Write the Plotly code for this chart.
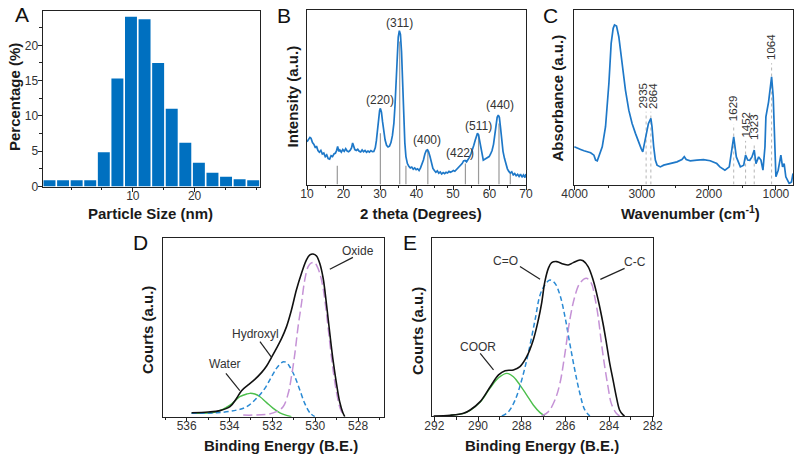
import plotly.graph_objects as go

# ---------------- Panel A: particle size histogram ----------------
size_centers = [-3.5, -1.3, 0.9, 3.1, 5.3, 7.5, 9.7, 11.9, 14.1, 16.3, 18.5, 20.7, 22.9, 25.1, 27.3, 29.5]
size_percent = [0.9, 0.9, 0.9, 0.9, 4.86, 15.3, 24.05, 23.7, 17.5, 11.0, 6.2, 3.35, 1.93, 1.37, 1.04, 0.9]

# ---------------- Panel B: XRD ----------------
xrd_2theta = [10.0, 10.4, 10.8, 11.1, 11.5, 11.9, 12.3, 12.6, 13.0, 13.4, 13.8, 14.2, 14.6, 15.0, 15.4, 15.8,
              16.2, 16.6, 17.0, 17.4, 17.8, 18.1, 18.4, 18.7, 19.0, 19.4, 19.8, 20.2, 20.6, 21.0, 21.4, 21.8,
              22.2, 22.5, 22.8, 23.1, 23.5, 23.9, 24.3, 24.7, 25.1, 25.5, 25.9, 26.3, 26.7, 27.1, 27.5, 27.9,
              28.3, 28.7, 29.0, 29.3, 29.6, 29.9, 30.1, 30.4, 30.7, 31.0, 31.4, 31.8, 32.2, 32.6, 33.0, 33.4,
              33.8, 34.1, 34.4, 34.7, 35.0, 35.3, 35.6, 35.9, 36.2, 36.5, 36.8, 37.1, 37.5, 37.9, 38.3, 38.7,
              39.1, 39.5, 39.9, 40.3, 40.7, 41.1, 41.5, 41.9, 42.3, 42.7, 43.0, 43.3, 43.7, 44.1, 44.5, 44.9,
              45.3, 45.7, 46.1, 46.5, 46.9, 47.3, 47.7, 48.1, 48.5, 48.9, 49.3, 49.7, 50.1, 50.5, 50.9, 51.3,
              51.7, 52.1, 52.5, 52.9, 53.3, 53.7, 54.1, 54.5, 54.9, 55.3, 55.7, 56.1, 56.4, 56.7, 57.0, 57.3,
              57.6, 57.9, 58.3, 58.7, 59.1, 59.5, 59.9, 60.3, 60.7, 61.1, 61.5, 61.8, 62.1, 62.4, 62.7, 63.0,
              63.3, 63.7, 64.1, 64.5, 64.9, 65.3, 65.7, 66.1, 66.5, 66.9, 67.3, 67.7, 68.1, 68.5, 68.9, 69.3,
              69.7, 70.0]
xrd_intensity = [24.5, 25.8, 27.0, 26.5, 24.0, 23.0, 21.0, 22.0, 19.5, 18.5, 19.5, 17.5, 18.0, 16.0, 17.0, 14.8,
                 14.5, 16.5, 16.0, 17.5, 18.0, 19.5, 21.8, 19.0, 19.8, 18.5, 20.0, 19.0, 20.5, 19.2, 18.8, 19.5,
                 21.0, 23.8, 21.5, 20.0, 19.5, 20.2, 19.0, 18.6, 19.8, 18.8, 19.5, 18.5, 19.2, 18.6, 19.4, 18.8,
                 18.9, 21.0, 25.0, 31.0, 38.5, 42.5, 43.6, 41.5, 36.0, 30.5, 25.5, 22.5, 21.5, 22.0, 24.0, 28.0,
                 35.0, 45.0, 60.0, 75.0, 84.5, 88.1, 86.0, 76.0, 58.0, 38.0, 24.0, 16.0, 12.0, 10.5, 9.5, 10.0,
                 8.8, 9.5, 8.5, 9.0, 8.0, 9.5, 11.5, 14.0, 17.5, 19.5, 19.8, 18.8, 16.0, 12.0, 9.2, 8.0,
                 7.0, 7.8, 6.5, 7.2, 6.0, 6.8, 6.2, 7.0, 6.6, 7.5, 7.0, 7.4, 8.0, 7.6, 8.5, 9.0,
                 10.2, 10.8, 12.0, 13.5, 13.8, 13.0, 14.0, 15.5, 17.5, 19.5, 22.5, 25.5, 28.0, 29.3, 28.5, 25.0,
                 20.5, 16.5, 14.0, 14.5, 15.0, 15.5, 16.0, 17.5, 19.5, 23.0, 29.0, 34.5, 38.5, 39.8, 38.5, 33.0,
                 25.5, 19.0, 15.0, 11.5, 9.0, 7.5, 6.5, 7.2, 5.5, 6.3, 5.0, 5.8, 4.6, 5.9, 4.2, 5.5,
                 4.0, 6.0]
ref_2theta = [18.3, 30.1, 35.4, 37.1, 43.1, 53.4, 57.0, 62.6, 65.7]
ref_height = [10.7, 29.3, 82.0, 10.7, 20.0, 12.0, 29.0, 35.0, 6.3]
hkl_labels = ["(220)", "(311)", "(400)", "(422)", "(511)", "(440)"]
hkl_x = [29.9, 35.4, 43.0, 51.9, 56.9, 62.8]
hkl_y = [48.4, 92.4, 25.4, 17.8, 33.8, 45.5]

# ---------------- Panel C: FTIR ----------------
ir_wavenumber = [4005, 3960, 3911, 3861, 3812, 3762, 3713, 3688, 3663, 3639, 3589, 3540, 3490, 3456, 3426, 3406,
                 3376, 3342, 3292, 3243, 3193, 3144, 3094, 3045, 3010, 2985, 2960, 2935, 2900, 2864, 2847, 2822,
                 2797, 2772, 2723, 2673, 2574, 2475, 2401, 2366, 2337, 2277, 2178, 2079, 1980, 1881, 1835, 1760,
                 1695, 1660, 1629, 1590, 1530, 1480, 1452, 1420, 1390, 1357, 1323, 1297, 1257, 1223, 1193, 1163,
                 1149, 1109, 1064, 1040, 1025, 1000, 966, 926, 901, 877, 852, 802, 767, 745]
ir_absorbance = [21.6, 20.7, 20.1, 19.3, 18.7, 18.2, 16.8, 14.0, 13.6, 15.9, 21.6, 33.1, 57.9, 80.9, 89.5, 91.4,
                 90.8, 84.7, 67.5, 54.1, 42.6, 35.0, 29.3, 23.5, 20.7, 18.7, 23.5, 30.2, 35.0, 37.9, 33.1, 21.6,
                 14.0, 11.1, 10.1, 11.1, 12.0, 13.0, 14.3, 15.9, 14.3, 13.6, 14.0, 14.3, 13.6, 12.0, 10.1, 8.2,
                 10.1, 19.7, 27.3, 15.8, 10.1, 11.1, 16.8, 14.0, 13.9, 15.8, 19.7, 12.0, 15.8, 14.0, 8.2, 21.6,
                 38.8, 47.4, 61.7, 50.3, 31.2, 4.4, 8.2, 16.8, 10.1, 12.0, 4.4, 0.6, 1.5, 6.3]
ir_marks = [2935, 2864, 1629, 1452, 1323, 1064]
ir_mark_top = [41.7, 41.7, 34.5, 25.0, 24.0, 69.5]
ir_label_x = [2985, 2830, 1629, 1452, 1323, 1064]

# ---------------- Panel D: O 1s XPS ----------------
o1s_env_x = [535.77, 534.99, 534.45, 533.98, 533.67, 533.44, 533.13, 532.82, 532.51, 532.27, 532.04, 531.81,
             531.57, 531.34, 531.11, 530.88, 530.64, 530.41, 530.25, 530.10, 529.94, 529.79, 529.63, 529.48,
             529.32, 529.17, 529.01, 528.86, 528.70, 528.62]
o1s_env_y = [2.2, 2.6, 3.4, 5.6, 10.3, 14.6, 17.8, 20.9, 24.7, 28.4, 33.3, 38.3, 43.9, 50.5, 59.8, 71.0,
             80.4, 87.9, 90.7, 91.2, 90.1, 86.0, 77.6, 63.6, 46.7, 31.8, 18.7, 8.4, 1.9, 0.0]
oxide_x = [533.36, 532.27, 531.81, 531.50, 531.26, 531.11, 530.95, 530.80, 530.64, 530.49, 530.33, 530.18,
           530.02, 529.94, 529.79, 529.63, 529.48, 529.32, 529.17, 529.01, 528.86, 528.70]
oxide_y = [0.9, 1.3, 2.8, 5.6, 13.1, 22.4, 35.5, 50.5, 63.6, 76.6, 84.1, 86.2, 86.4, 85.0, 80.5, 72.0,
           58.5, 41.5, 26.5, 14.0, 5.6, 0.9]
hydroxyl_x = [535.77, 534.60, 533.67, 533.20, 532.74, 532.35, 532.04, 531.81, 531.57, 531.47, 531.34, 531.19,
              530.95, 530.72, 530.49, 530.25, 530.02]
hydroxyl_y = [1.9, 2.2, 3.7, 5.6, 10.3, 15.9, 22.4, 27.1, 30.3, 30.8, 30.3, 28.0, 22.4, 15.0, 7.5, 2.2, 0.0]
water_x = [535.77, 534.60, 533.98, 533.52, 533.20, 533.05, 532.82, 532.58, 532.27, 531.96, 531.65, 531.34, 531.11]
water_y = [1.9, 2.8, 6.5, 11.2, 12.7, 13.1, 12.7, 11.2, 7.9, 4.7, 2.2, 0.7, 0.0]

# ---------------- Panel E: C 1s XPS ----------------
c1s_env_x = [292.03, 291.27, 290.66, 290.36, 289.90, 289.44, 289.06, 288.76, 288.38, 288.08, 287.77, 287.47,
             287.24, 287.09, 286.94, 286.78, 286.63, 286.40, 286.10, 285.87, 285.64, 285.34, 285.19, 284.96,
             284.73, 284.50, 284.28, 284.12, 283.97, 283.82, 283.67, 283.52, 283.36, 283.29]
c1s_env_y = [0.0, 0.4, 1.5, 3.4, 8.1, 16.5, 23.1, 25.5, 25.9, 27.8, 33.4, 42.8, 54.0, 63.4, 75.6, 83.1,
             86.3, 86.9, 85.5, 85.0, 86.3, 87.8, 87.4, 84.1, 76.5, 65.3, 52.2, 40.9, 29.6, 20.3, 10.9, 3.4,
             0.6, 0.0]
coor_x = [291.27, 290.66, 290.36, 289.90, 289.44, 289.06, 288.68, 288.38, 288.08, 287.77, 287.47, 287.16, 286.94]
coor_y = [0.4, 1.5, 3.2, 7.8, 15.8, 21.5, 24.0, 22.1, 17.4, 11.8, 6.2, 1.9, 0.0]
co_x = [288.91, 288.61, 288.30, 288.00, 287.70, 287.39, 287.16, 286.94, 286.71, 286.48, 286.25, 286.02,
        285.80, 285.57, 285.34, 285.11, 284.88]
co_y = [0.0, 2.4, 9.0, 20.3, 35.3, 54.0, 68.1, 73.7, 76.5, 74.7, 68.1, 55.9, 40.9, 25.9, 12.8, 3.4, 0.0]
cc_x = [287.09, 286.78, 286.48, 286.25, 286.02, 285.80, 285.57, 285.34, 285.04, 284.81, 284.66, 284.50,
        284.35, 284.20, 284.05, 283.90, 283.67, 283.52]
cc_y = [0.0, 2.4, 9.0, 18.4, 35.3, 54.0, 67.2, 74.7, 77.5, 74.7, 67.2, 55.9, 40.9, 27.8, 16.5, 7.1, 1.5, 0.0]

# labels with pointer lines: (text, text_x, text_y, line_x0, line_y0, line_x1, line_y1)
d_labels = [("Oxide", 528.0, 93.1, 528.24, 89.3, 529.32, 82.6),
            ("Hydroxyl", 532.77, 46.4, 532.58, 42.1, 532.04, 33.3),
            ("Water", 534.21, 29.5, 534.17, 24.3, 533.52, 14.6)]
e_labels = [("C=O", 288.76, 87.4, 288.08, 84.1, 287.16, 76.9),
            ("C-C", 282.83, 86.9, 283.29, 83.1, 284.40, 76.9),
            ("COOR", 289.99, 39.0, 289.90, 35.3, 289.29, 25.9)]

# ---------------- styling ----------------
FONT = "Liberation Sans, Arial, sans-serif"
MAIN_BLUE = "#1e78c8"
BAR_BLUE = "#0070c0"
W, H = 800, 459

def px_x(p):
    return p / W

def px_y(p):
    return 1 - p / H

fig = go.Figure()

# A
fig.add_trace(go.Bar(x=size_centers, y=size_percent, marker=dict(color=BAR_BLUE, line=dict(width=0)),
                     xaxis="x", yaxis="y", showlegend=False))

# B reference lines
ref_xs, ref_ys = [], []
for xv, hv in zip(ref_2theta, ref_height):
    ref_xs += [xv, xv, None]
    ref_ys += [0, hv, None]
fig.add_trace(go.Scatter(x=ref_xs, y=ref_ys, mode="lines", line=dict(color="#9a9a9a", width=1.2),
                         xaxis="x2", yaxis="y2", showlegend=False))
fig.add_trace(go.Scatter(x=xrd_2theta, y=xrd_intensity, mode="lines", line=dict(color=MAIN_BLUE, width=1.7),
                         xaxis="x2", yaxis="y2", showlegend=False))

# C dotted marker lines
ir_xs, ir_ys = [], []
for xv, hv in zip(ir_marks, ir_mark_top):
    ir_xs += [xv, xv, None]
    ir_ys += [0, hv, None]
fig.add_trace(go.Scatter(x=ir_xs, y=ir_ys, mode="lines", line=dict(color="#b5b5b5", width=1, dash="dot"),
                         xaxis="x3", yaxis="y3", showlegend=False))
fig.add_trace(go.Scatter(x=ir_wavenumber, y=ir_absorbance, mode="lines", line=dict(color=MAIN_BLUE, width=1.7),
                         xaxis="x3", yaxis="y3", showlegend=False))

# D
fig.add_trace(go.Scatter(x=water_x, y=water_y, mode="lines", line=dict(color="#4cbf4c", width=1.4, shape="spline"),
                         xaxis="x4", yaxis="y4", showlegend=False))
fig.add_trace(go.Scatter(x=hydroxyl_x, y=hydroxyl_y, mode="lines",
                         line=dict(color="#2a8ad4", width=1.5, dash="5px,3px", shape="spline"),
                         xaxis="x4", yaxis="y4", showlegend=False))
fig.add_trace(go.Scatter(x=oxide_x, y=oxide_y, mode="lines",
                         line=dict(color="#c592d6", width=1.5, dash="9px,4px", shape="spline"),
                         xaxis="x4", yaxis="y4", showlegend=False))
fig.add_trace(go.Scatter(x=o1s_env_x, y=o1s_env_y, mode="lines", line=dict(color="#111111", width=1.6, shape="spline"),
                         xaxis="x4", yaxis="y4", showlegend=False))

# E
fig.add_trace(go.Scatter(x=coor_x, y=coor_y, mode="lines", line=dict(color="#4cbf4c", width=1.4, shape="spline"),
                         xaxis="x5", yaxis="y5", showlegend=False))
fig.add_trace(go.Scatter(x=co_x, y=co_y, mode="lines",
                         line=dict(color="#2a8ad4", width=1.5, dash="5px,3px", shape="spline"),
                         xaxis="x5", yaxis="y5", showlegend=False))
fig.add_trace(go.Scatter(x=cc_x, y=cc_y, mode="lines",
                         line=dict(color="#c592d6", width=1.5, dash="9px,4px", shape="spline"),
                         xaxis="x5", yaxis="y5", showlegend=False))
fig.add_trace(go.Scatter(x=c1s_env_x, y=c1s_env_y, mode="lines", line=dict(color="#111111", width=1.6, shape="spline"),
                         xaxis="x5", yaxis="y5", showlegend=False))

tickfont = dict(family=FONT, size=12, color="#333333")
minor_t = dict(ticklen=2.5, ticks="outside", tickcolor="#222222")
axis_common = dict(showline=True, mirror=True, linecolor="#222222", linewidth=1.3, showgrid=False, zeroline=False,
                   tickfont=tickfont, ticks="outside", ticklen=4, tickcolor="#222222", tickwidth=1,
                   automargin=False)
xstand = dict(ticklabelstandoff=-6)
noy = dict(showline=True, mirror=True, linecolor="#222222", linewidth=1.3, showgrid=False, zeroline=False,
           showticklabels=False, ticks="", range=[0, 100], fixedrange=True, automargin=False)

fig.update_layout(
    width=W, height=H, margin=dict(l=0, r=0, t=0, b=0, autoexpand=False),
    paper_bgcolor="white", plot_bgcolor="white", bargap=0.12,
    font=dict(family=FONT, color="#222222"),
    xaxis=dict(axis_common, **xstand, domain=[px_x(42.7), px_x(260)], range=[-4.6, 30.6],
               tickvals=[10, 20], minor=dict(minor_t, dtick=5, tick0=0)),
    yaxis=dict(axis_common, ticklabelstandoff=-3, domain=[px_y(186.5), px_y(10.7)], range=[0, 24.9],
               dtick=5, tick0=0, minor=dict(minor_t, dtick=2.5, tick0=0)),
    xaxis2=dict(axis_common, **xstand, domain=[px_x(307), px_x(526)], range=[10, 70], dtick=10, tick0=0,
                minor=dict(minor_t, dtick=5, tick0=0), anchor="y2"),
    yaxis2=dict(noy, domain=[px_y(184.5), px_y(10)], anchor="x2"),
    xaxis3=dict(axis_common, **xstand, domain=[px_x(574), px_x(793)], range=[4010, 745], dtick=1000, tick0=0,
                minor=dict(minor_t, dtick=500, tick0=0), anchor="y3"),
    yaxis3=dict(noy, domain=[px_y(184.5), px_y(10)], anchor="x3"),
    xaxis4=dict(axis_common, **xstand, domain=[px_x(162.7), px_x(384)], range=[537.12, 526.79], dtick=2, tick0=0,
                minor=dict(minor_t, dtick=1, tick0=0), anchor="y4"),
    yaxis4=dict(noy, domain=[px_y(416.7), px_y(238.3)], anchor="x4"),
    xaxis5=dict(axis_common, **xstand, domain=[px_x(431.7), px_x(653)], range=[292.12, 281.99], dtick=2, tick0=0,
                minor=dict(minor_t, dtick=1, tick0=0), anchor="y5"),
    yaxis5=dict(noy, domain=[px_y(416), px_y(238.3)], anchor="x5"),
)

ann = []
labfont = dict(family=FONT, size=12, color="#333333")
for t, xv, yv in zip(hkl_labels, hkl_x, hkl_y):
    ann.append(dict(x=xv, y=yv, xref="x2", yref="y2", text=t, showarrow=False, font=labfont))
for t, xv, yv in zip(ir_marks, ir_label_x, ir_mark_top):
    ann.append(dict(x=xv, y=yv + 0.5, xref="x3", yref="y3", text=str(t), showarrow=False, textangle=-90,
                    xanchor="center", yanchor="bottom", font=dict(family=FONT, size=11.5, color="#333333")))

shapes = []
for labels, xr, yr in ((d_labels, "x4", "y4"), (e_labels, "x5", "y5")):
    for t, tx, ty, x0, y0, x1, y1 in labels:
        ann.append(dict(x=tx, y=ty, xref=xr, yref=yr, text=t, showarrow=False, font=labfont))
        shapes.append(dict(type="line", xref=xr, yref=yr, x0=x0, y0=y0, x1=x1, y1=y1,
                           line=dict(color="#222222", width=1.2)))

titlefont = dict(family=FONT, size=15, color="#1a1a1a")
titles = [
    ("<b>Percentage (%)</b>", 14, 97, -90),
    ("<b>Particle Size (nm)</b>", 150.5, 213.5, 0),
    ("<b>Intensity (a.u.)</b>", 291.5, 97, -90),
    ("<b>2 theta (Degrees)</b>", 421, 213.5, 0),
    ("<b>Absorbance (a.u.)</b>", 557.5, 98, -90),
    ("<b>Wavenumber (cm<sup>-1</sup>)</b>", 690, 212.5, 0),
    ("<b>Courts (a.u.)</b>", 147, 330, -90),
    ("<b>Binding Energy (B.E.)</b>", 280.5, 445, 0),
    ("<b>Courts (a.u.)</b>", 417, 331, -90),
    ("<b>Binding Energy (B.E.)</b>", 541.5, 445, 0),
]
for t, x, y, ang in titles:
    ann.append(dict(x=px_x(x), y=px_y(y), xref="paper", yref="paper", text=t, showarrow=False,
                    textangle=ang, font=titlefont, xanchor="center", yanchor="middle"))

letters = [("A", 21.5, 15), ("B", 283.5, 15.5), ("C", 550, 15.5), ("D", 140, 242.5), ("E", 410, 242.5)]
for t, x, y in letters:
    ann.append(dict(x=px_x(x), y=px_y(y), xref="paper", yref="paper", text=t, showarrow=False,
                    font=dict(family=FONT, size=21, color="#111111"), xanchor="center", yanchor="middle"))

fig.update_layout(annotations=ann, shapes=shapes)
fig.write_html("out.html", config={"displayModeBar": False},
               post_script="document.body.style.margin='0px';document.body.style.overflow='hidden';")
